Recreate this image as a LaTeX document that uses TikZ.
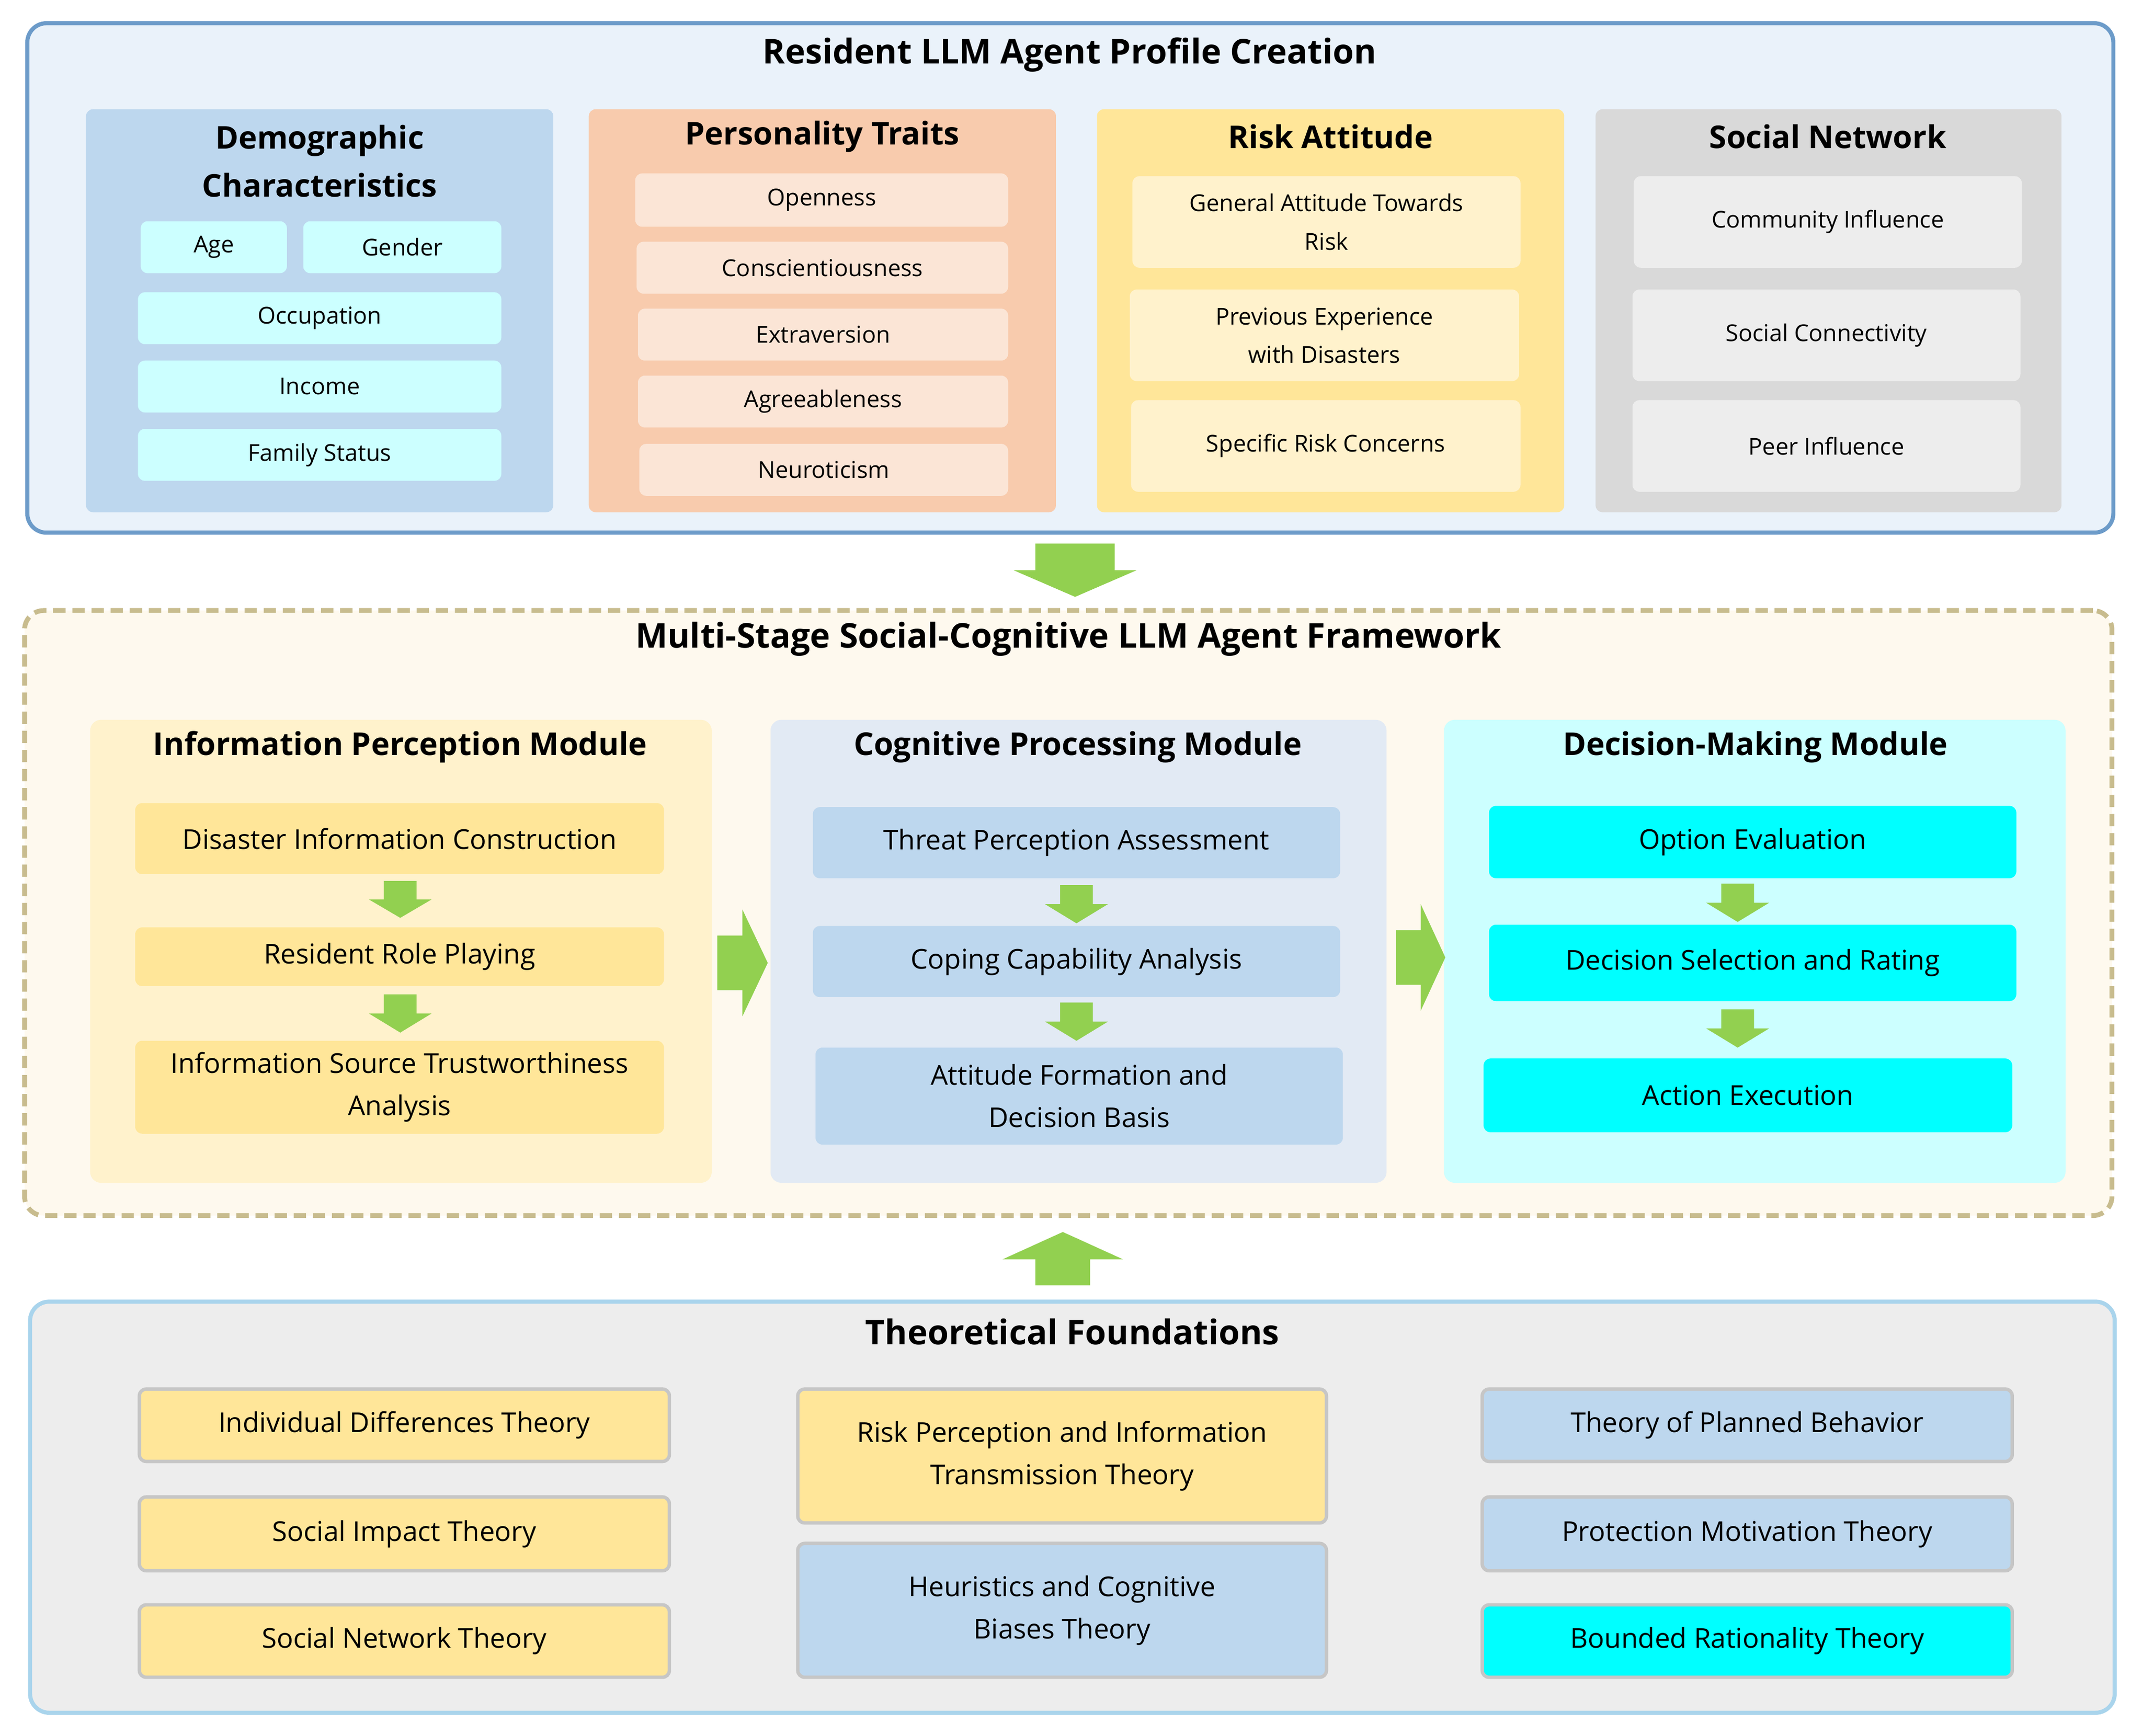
\documentclass[tikz,border=0pt]{standalone}
\usepackage{fontspec}
\setmainfont{Open Sans}
\begin{document}
\newcommand\bx[7]{\node[#6,minimum width={(#4-#2)*1pt},minimum height={(#5-#3)*1pt}] (#1) at ({(#2+#4)/2},{(#3+#5)/2}) {#7};}
\newcommand\darr[5]{\fill[arr] ({#1-#4},#2) -- ({#1+#4},#2) -- ({#1+#4},{(#3+#2)/2}) -- ({#1+#5},{(#3+#2)/2}) -- (#1,#3) -- ({#1-#5},{(#3+#2)/2}) -- ({#1-#4},{(#3+#2)/2}) -- cycle;}
\newcommand\rarr[5]{\fill[arr] (#2,{#1-#4}) -- (#2,{#1+#4}) -- ({(#3+#2)/2},{#1+#4}) -- ({(#3+#2)/2},{#1+#5}) -- (#3,#1) -- ({(#3+#2)/2},{#1-#5}) -- ({(#3+#2)/2},{#1-#4}) -- cycle;}
\definecolor{arrg}{HTML}{92D050}
\definecolor{lb}{HTML}{BDD7EE}
\definecolor{lbl}{HTML}{E2EAF4}
\definecolor{cy}{HTML}{CCFFFF}
\definecolor{or}{HTML}{F8CBAD}
\definecolor{orl}{HTML}{FBE5D6}
\definecolor{ye}{HTML}{FFE699}
\definecolor{yel}{HTML}{FFF2CC}
\definecolor{gr}{HTML}{D9D9D9}
\definecolor{grl}{HTML}{EDEDED}
\definecolor{aq}{HTML}{00FFFF}
\definecolor{topbg}{HTML}{EAF2FA}
\definecolor{topbd}{HTML}{6C9BC9}
\definecolor{midbg}{HTML}{FEF9EE}
\definecolor{midbd}{HTML}{C8BC8E}
\definecolor{botbd}{HTML}{A9D4EC}
\begin{tikzpicture}[x=1pt,y=-1pt,
  every node/.style={inner sep=0pt,outer sep=0pt,align=center},
  arr/.style={fill=arrg},
  box/.style={rounded corners=5pt},
  pit/.style={box,font=\fontsize{17}{28}\selectfont},
  mit/.style={box,font=\fontsize{20}{31}\selectfont},
  tit/.style={font=\fontsize{25}{30}\selectfont\bfseries},
  st/.style={font=\fontsize{23}{35}\selectfont\bfseries},
  fit/.style={box,draw=gray!45,line width=2.5pt,font=\fontsize{20}{31}\selectfont}]
\useasboundingbox (0,0) rectangle (1568,1271);
% ---- top
\bx{top}{20}{17}{1547}{390}{rounded corners=14pt,fill=topbg,draw=topbd,line width=3pt}{}
\node[tit] (tt) at (783,40) {Resident LLM Agent Profile Creation};
\bx{c1}{63}{80}{405}{375}{box,fill=lb}{}
\node[st] (c1t) at (234,118) {Demographic\\Characteristics};
\bx{a1}{103}{162}{210}{200}{pit,fill=cy}{Age}
\bx{a2}{222}{162}{367}{200}{pit,fill=cy}{Gender}
\bx{a3}{101}{214}{367}{252}{pit,fill=cy}{Occupation}
\bx{a4}{101}{264}{367}{302}{pit,fill=cy}{Income}
\bx{a5}{101}{314}{367}{352}{pit,fill=cy}{Family Status}
\bx{c2}{431}{80}{773}{375}{box,fill=or}{}
\node[st] (c2t) at (602,100) {Personality Traits};
\bx{b1}{465}{127}{738}{166}{pit,fill=orl}{Openness}
\bx{b2}{466}{177}{738}{215}{pit,fill=orl}{Conscientiousness}
\bx{b3}{467}{226}{738}{264}{pit,fill=orl}{Extraversion}
\bx{b4}{467}{275}{738}{313}{pit,fill=orl}{Agreeableness}
\bx{b5}{468}{325}{738}{363}{pit,fill=orl}{Neuroticism}
\bx{c3}{803}{80}{1145}{375}{box,fill=ye}{}
\node[st] (c3t) at (974,100) {Risk Attitude};
\bx{r1}{829}{129}{1113}{196}{pit,fill=yel}{General Attitude Towards\\Risk}
\bx{r2}{827}{212}{1112}{279}{pit,fill=yel}{Previous Experience\\with Disasters}
\bx{r3}{828}{293}{1113}{360}{pit,fill=yel}{Specific Risk Concerns}
\bx{c4}{1168}{80}{1509}{375}{box,fill=gr}{}
\node[st] (c4t) at (1338,100) {Social Network};
\bx{s1}{1196}{129}{1480}{196}{pit,fill=grl}{Community Influence}
\bx{s2}{1195}{212}{1479}{279}{pit,fill=grl}{Social Connectivity}
\bx{s3}{1195}{293}{1479}{360}{pit,fill=grl}{Peer Influence}
\darr{787}{398}{437}{29}{45}
% ---- middle
\bx{mid}{18}{447}{1546}{890}{rounded corners=14pt,fill=midbg,draw=midbd,line width=3.5pt,dash pattern=on 9pt off 5pt}{}
\node[tit] (mt) at (782,468) {Multi-Stage Social-Cognitive LLM Agent Framework};
\bx{m1}{66}{527}{521}{866}{rounded corners=8pt,fill=yel}{}
\node[st] (m1t) at (293,547) {Information Perception Module};
\bx{i1}{99}{588}{486}{640}{mit,fill=ye}{Disaster Information Construction}
\bx{i2}{99}{679}{486}{722}{mit,fill=ye}{Resident Role Playing}
\bx{i3}{99}{762}{486}{830}{mit,fill=ye}{Information Source Trustworthiness\\Analysis}
\darr{293}{645}{672}{12}{23}
\darr{293}{728}{756}{12}{23}
\bx{m2}{564}{527}{1015}{866}{rounded corners=8pt,fill=lbl}{}
\node[st] (m2t) at (789,547) {Cognitive Processing Module};
\bx{j1}{595}{591}{981}{643}{mit,fill=lb}{Threat Perception Assessment}
\bx{j2}{595}{678}{981}{730}{mit,fill=lb}{Coping Capability Analysis}
\bx{j3}{597}{767}{983}{838}{mit,fill=lb}{Attitude Formation and\\Decision Basis}
\darr{788}{648}{676}{12}{23}
\darr{788}{734}{762}{12}{23}
\bx{m3}{1057}{527}{1512}{866}{rounded corners=8pt,fill=cy}{}
\node[st] (m3t) at (1285,547) {Decision-Making Module};
\bx{k1}{1090}{590}{1476}{643}{mit,fill=aq}{Option Evaluation}
\bx{k2}{1090}{677}{1476}{733}{mit,fill=aq}{Decision Selection and Rating}
\bx{k3}{1086}{775}{1473}{829}{mit,fill=aq}{Action Execution}
\darr{1272}{647}{675}{12}{23}
\darr{1272}{739}{767}{12}{23}
\rarr{705}{525}{562}{20}{39}
\rarr{701}{1022}{1058}{20}{39}
% up arrow
\fill[arr] (758,941) -- (798,941) -- (798,922) -- (822,922) -- (778,902) -- (734,922) -- (758,922) -- cycle;
% ---- bottom
\bx{bot}{22}{953}{1548}{1254}{rounded corners=14pt,fill=grl,draw=botbd,line width=3pt}{}
\node[tit] (bt) at (785,975) {Theoretical Foundations};
\bx{f1}{102}{1017}{490}{1070}{fit,fill=ye}{Individual Differences Theory}
\bx{f2}{102}{1096}{490}{1150}{fit,fill=ye}{Social Impact Theory}
\bx{f3}{102}{1175}{490}{1228}{fit,fill=ye}{Social Network Theory}
\bx{g1}{584}{1017}{971}{1115}{fit,fill=ye}{Risk Perception and Information\\Transmission Theory}
\bx{g2}{584}{1130}{971}{1228}{fit,fill=lb}{Heuristics and Cognitive\\Biases Theory}
\bx{h1}{1085}{1017}{1473}{1070}{fit,fill=lb}{Theory of Planned Behavior}
\bx{h2}{1085}{1096}{1473}{1150}{fit,fill=lb}{Protection Motivation Theory}
\bx{h3}{1085}{1175}{1473}{1228}{fit,fill=aq}{Bounded Rationality Theory}
\end{tikzpicture}
\end{document}
